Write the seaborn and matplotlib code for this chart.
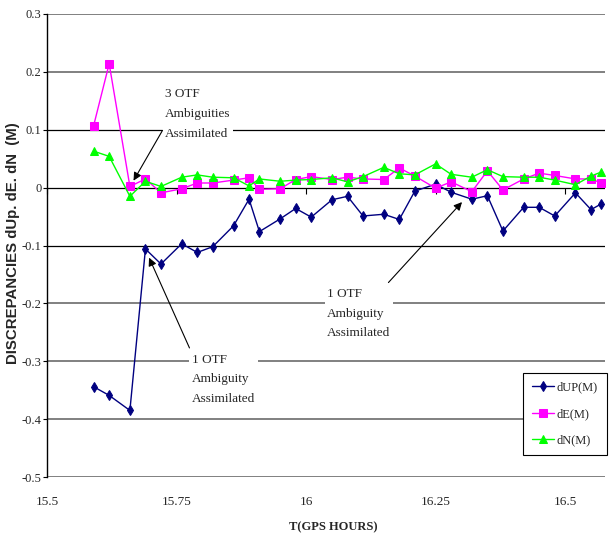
import matplotlib
matplotlib.use("Agg")
import matplotlib.pyplot as plt
import seaborn as sns
import pandas as pd

# ---- data ----
t_hours = [15.59, 15.62, 15.66, 15.69, 15.72, 15.76, 15.79, 15.82, 15.86, 15.89,
           15.91, 15.95, 15.98, 16.01, 16.05, 16.08, 16.11, 16.15, 16.18, 16.21,
           16.25, 16.28, 16.32, 16.35, 16.38, 16.42, 16.45, 16.48, 16.52, 16.55, 16.57]
d_up = [-0.344, -0.359, -0.385, -0.106, -0.132, -0.097, -0.112, -0.102, -0.066, -0.020,
        -0.076, -0.054, -0.036, -0.051, -0.021, -0.015, -0.049, -0.046, -0.055, -0.006,
        0.006, -0.008, -0.020, -0.014, -0.075, -0.034, -0.034, -0.049, -0.009, -0.038, -0.028]
d_e = [0.107, 0.214, 0.002, 0.015, -0.009, -0.002, 0.008, 0.008, 0.013, 0.017,
       -0.003, -0.002, 0.014, 0.019, 0.014, 0.018, 0.015, 0.014, 0.034, 0.020,
       -0.001, 0.010, -0.007, 0.029, -0.004, 0.015, 0.025, 0.021, 0.015, 0.015, 0.008]
d_n = [0.063, 0.054, -0.015, 0.011, 0.002, 0.018, 0.022, 0.018, 0.017, 0.003,
       0.015, 0.011, 0.013, 0.014, 0.017, 0.010, 0.019, 0.035, 0.024, 0.022,
       0.041, 0.023, 0.018, 0.031, 0.019, 0.018, 0.018, 0.013, 0.005, 0.020, 0.027]
series_names = ["dUP(M)", "dE(M)", "dN(M)"]

x_ticks = [15.5, 15.75, 16.0, 16.25, 16.5]
x_tick_labels = ["15.5", "15.75", "16", "16.25", "16.5"]
y_ticks = [0.3, 0.2, 0.1, 0.0, -0.1, -0.2, -0.3, -0.4, -0.5]
y_tick_labels = ["0.3", "0.2", "0.1", "0", "-0.1", "-0.2", "-0.3", "-0.4", "-0.5"]

y_label = "DISCREPANCIES dUp. dE. dN  (M)"
x_label = "T(GPS HOURS)"
note_3 = "3 OTF\nAmbiguities\nAssimilated"
note_1 = "1 OTF\nAmbiguity\nAssimilated"

# ---- styling ----
sns.set_theme(style="white")
plt.rcParams["font.family"] = ["Liberation Serif", "DejaVu Serif"]
plt.rcParams["axes.unicode_minus"] = False

fig = plt.figure(figsize=(6.09, 5.33), dpi=100)
ax = fig.add_axes([47 / 609, 56 / 533, 558 / 609, 463 / 533])

df = pd.DataFrame({"t": t_hours * 3,
                   "v": d_up + d_e + d_n,
                   "s": [series_names[0]] * len(d_up) + [series_names[1]] * len(d_e)
                        + [series_names[2]] * len(d_n)})

colors = ["#000080", "#FF00FF", "#00FF00"]
markers = ["d", "s", "^"]
msizes = [5.5, 6.3, 6]
for name, c, m, ms in zip(series_names, colors, markers, msizes):
    sub = df[df["s"] == name]
    sns.lineplot(data=sub, x="t", y="v", ax=ax, color=c, marker=m, markersize=ms,
                 markeredgecolor=c, markerfacecolor=c, linewidth=1.0, sort=False,
                 estimator=None, label=name, zorder=5)

ax.set_xlim(15.5, 16.577)
ax.set_ylim(-0.5, 0.3)

# horizontal gridlines
for yv in y_ticks:
    if yv == 0.0 or abs(yv) == 0.1:
        ax.axhline(yv, color="black", lw=0.9, zorder=1)
    else:
        ax.axhline(yv, color="#808080", lw=1.4, zorder=1)

for s in ["top", "right", "bottom"]:
    ax.spines[s].set_visible(False)
ax.spines["left"].set_color("black")
ax.spines["left"].set_linewidth(1.0)

ax.set_yticks(y_ticks)
ax.set_yticklabels(y_tick_labels)
ax.set_xticks(x_ticks)
ax.set_xticklabels(x_tick_labels)
ax.tick_params(axis="y", left=True, length=3, width=0.8, color="black", pad=1,
               labelsize=9)
ax.tick_params(axis="x", bottom=False, length=0, pad=14, labelsize=9.5)

# tick marks on the zero line
sec = ax.secondary_xaxis(0.625)
sec.set_xticks(x_ticks)
sec.tick_params(axis="x", direction="out", length=4, width=0.8, color="black",
                labelbottom=False, labeltop=False, top=False, bottom=True)
sec.spines["bottom"].set_visible(False)
sec.spines["top"].set_visible(False)
sec.xaxis.set_ticks_position("bottom")
sec.set_xticklabels([])

ax.set_ylabel(y_label, family=["Liberation Sans", "DejaVu Sans"], fontweight="bold",
              fontsize=10.8)
ax.yaxis.set_label_coords((20 - 47) / 558, (477 - 243) / 463)
ax.set_xlabel(x_label, fontweight="bold", fontsize=9)
ax.xaxis.set_label_coords((333 - 47) / 558, -(527 - 477) / 463)
ax.xaxis.label.set_va("center")

# annotations
box = dict(facecolor="white", edgecolor="none", pad=2)
arrow = dict(arrowstyle="-|>", color="black", lw=0.8, mutation_scale=12,
             shrinkA=0, shrinkB=0)
ax.text(15.727, 0.127, note_3, fontsize=9.5, va="center", ha="left",
        linespacing=1.85, bbox=box, zorder=6)
ax.annotate("", xy=(15.667, 0.012), xytext=(15.723, 0.099),
            arrowprops=arrow, zorder=7)

ax.text(15.78, -0.331, note_1, fontsize=9.5, va="center", ha="left",
        linespacing=1.85, bbox=box, zorder=6)
ax.annotate("", xy=(15.697, -0.121), xytext=(15.775, -0.277),
            arrowprops=arrow, zorder=7)

ax.text(16.041, -0.218, note_1, fontsize=9.5, va="center", ha="left",
        linespacing=1.85, bbox=box, zorder=6)
ax.annotate("", xy=(16.301, -0.025), xytext=(16.159, -0.164),
            arrowprops=arrow, zorder=7)

leg = ax.legend(loc="upper right", bbox_to_anchor=(1.003, 0.2246), frameon=True,
                fancybox=False, edgecolor="black", framealpha=1, fontsize=9,
                handlelength=1.8, handletextpad=0.2, labelspacing=1.15,
                borderpad=0.7, borderaxespad=0)
leg.get_frame().set_linewidth(0.8)
leg.set_zorder(10)

fig.savefig("out.png", dpi=100, facecolor="white")
